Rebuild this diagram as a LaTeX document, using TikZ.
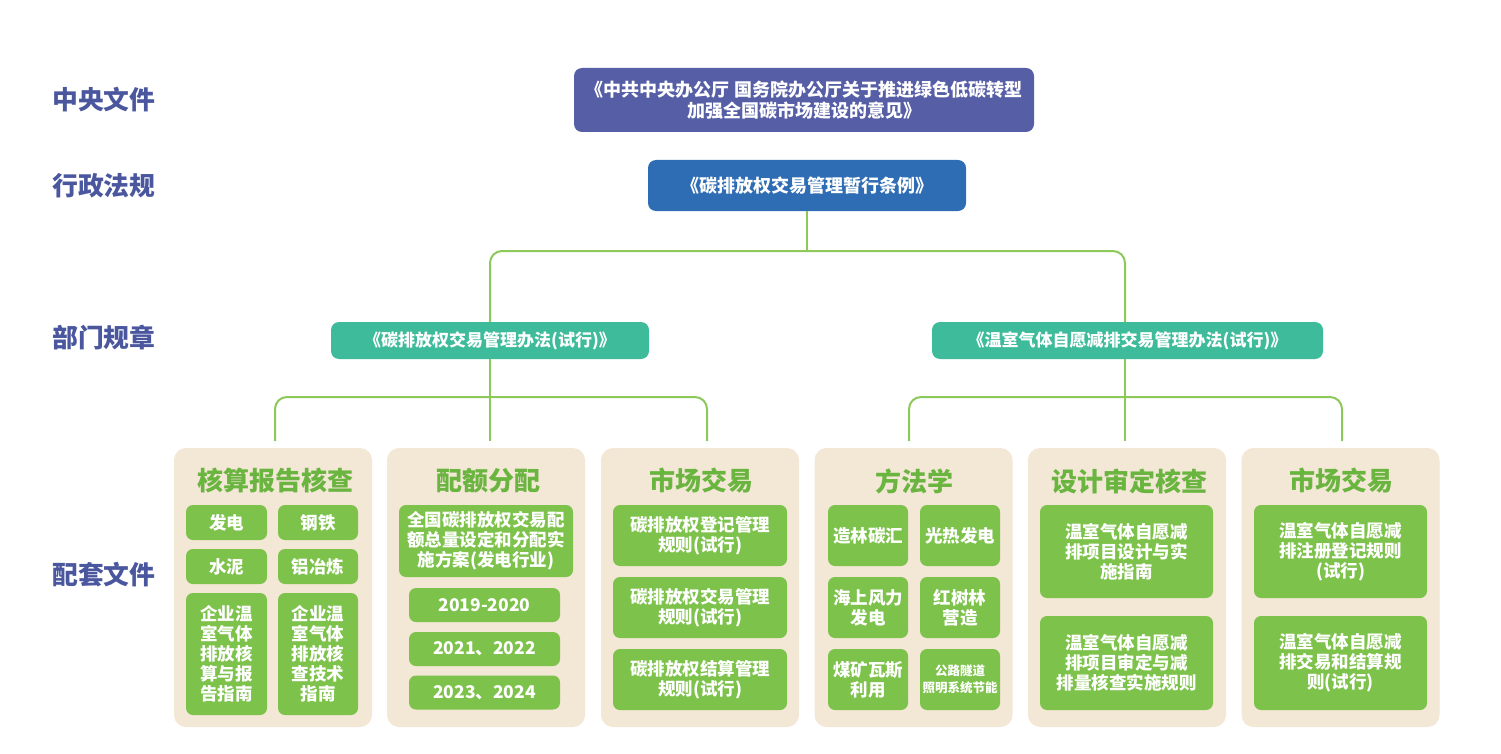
\documentclass[tikz,border=0pt]{standalone}
\usepackage{fontspec}
\setmainfont{Noto Sans CJK SC}
\definecolor{cpurple}{HTML}{565EA6}
\definecolor{cblue}{HTML}{2E6DB4}
\definecolor{cteal}{HTML}{3DBB9A}
\definecolor{cline}{HTML}{8DC85A}
\definecolor{cbeige}{HTML}{F3E7D5}
\definecolor{cgreen}{HTML}{7DC24B}
\definecolor{ctitle}{HTML}{6AB440}
\definecolor{clabel}{HTML}{4A579E}
\tikzset{
  lvl/.style={text=clabel,font=\fontsize{25.8}{28}\selectfont\bfseries,anchor=west,inner sep=0pt},
  topbox/.style={rounded corners=8pt,text=white,align=center,inner sep=0pt,font=\fontsize{18}{21}\selectfont\bfseries},
  panel/.style={fill=cbeige,rounded corners=12pt,minimum width=198pt,minimum height=279pt,inner sep=0pt},
  ptitle/.style={text=ctitle,font=\fontsize{26}{28}\selectfont\bfseries,inner sep=0pt},
  gbox/.style={fill=cgreen,rounded corners=7pt,text=white,align=center,inner sep=0pt,font=\fontsize{17.5}{20}\selectfont\bfseries},
  conn/.style={draw=cline,line width=2pt,rounded corners=12pt}
}
\begin{document}
\begin{tikzpicture}[x=1pt,y=-1pt]
\useasboundingbox (0,0) rectangle (1501,754);
% level labels
\node[lvl] (l1) at (52,100) {中央文件};
\node[lvl] (l2) at (52,186) {行政法规};
\node[lvl] (l3) at (52,338) {部门规章};
\node[lvl] (l4) at (52,575) {配套文件};
% top boxes
\node[topbox,fill=cpurple,minimum width=460pt,minimum height=64pt] (central) at (804,100)
  {《中共中央办公厅 国务院办公厅关于推进绿色低碳转型\\加强全国碳市场建设的意见》};
\node[topbox,fill=cblue,minimum width=318pt,minimum height=51pt] (tiaoli) at (807,185.5)
  {《碳排放权交易管理暂行条例》};
\node[topbox,fill=cteal,minimum width=318pt,minimum height=37pt,font=\fontsize{17}{20}\selectfont\bfseries] (bl) at (490,340.5)
  {《碳排放权交易管理办法(试行)》};
\node[topbox,fill=cteal,minimum width=391pt,minimum height=37pt,font=\fontsize{17}{20}\selectfont\bfseries] (br) at (1127.5,340.5)
  {《温室气体自愿减排交易管理办法(试行)》};
% connectors
\coordinate (j1) at (807,251);
\draw[conn] (tiaoli.south) -- (j1);
\draw[conn] (bl.north) |- (j1) -| (1125,322);
\coordinate (j2) at (490,397);
\coordinate (a1) at (275,441);
\coordinate (a2) at (490,441);
\coordinate (a3) at (707,441);
\draw[conn] (bl.south) -- (a2);
\draw[conn] (a1) |- (j2) -| (a3);
\coordinate (j3) at (1125,397);
\coordinate (b1) at (909,441);
\coordinate (b2) at (1125,441);
\coordinate (b3) at (1342,441);
\draw[conn] (1125,359) -- (b2);
\draw[conn] (b1) |- (j3) -| (b3);
% panels
\node[panel] (p1) at (273,587.5) {};
\node[panel] (p2) at (486,587.5) {};
\node[panel] (p3) at (700,587.5) {};
\node[panel] (p4) at (913.5,587.5) {};
\node[panel] (p5) at (1127,587.5) {};
\node[panel] (p6) at (1340.5,587.5) {};
\node[ptitle] (t1) at (275,481) {核算报告核查};
\node[ptitle] (t2) at (488,481) {配额分配};
\node[ptitle] (t3) at (701,481) {市场交易};
\node[ptitle] (t4) at (914,481) {方法学};
\node[ptitle] (t5) at (1129,481) {设计审定核查};
\node[ptitle] (t6) at (1341,481) {市场交易};
% panel 1
\node[gbox,minimum width=81pt,minimum height=35pt] (a11) at (226.5,522.5) {发电};
\node[gbox,minimum width=80pt,minimum height=35pt] (a12) at (318,522.5) {钢铁};
\node[gbox,minimum width=81pt,minimum height=35pt] (a21) at (226.5,566.5) {水泥};
\node[gbox,minimum width=80pt,minimum height=35pt] (a22) at (318,566.5) {铝冶炼};
\node[gbox,minimum width=81pt,minimum height=122pt] (a31) at (226.5,654) {企业温\\室气体\\排放核\\算与报\\告指南};
\node[gbox,minimum width=80pt,minimum height=122pt] (a32) at (318,654) {企业温\\室气体\\排放核\\查技术\\指南};
% panel 2
\node[gbox,minimum width=174pt,minimum height=72pt] (c1) at (486,541) {全国碳排放权交易配\\额总量设定和分配实\\施方案(发电行业)};
\node[gbox,minimum width=151pt,minimum height=34pt] (c2) at (484.5,605) {2019-2020};
\node[gbox,minimum width=151pt,minimum height=34pt] (c3) at (484.5,649) {2021、2022};
\node[gbox,minimum width=151pt,minimum height=34pt] (c4) at (484.5,692.5) {2023、2024};
% panel 3
\node[gbox,minimum width=174pt,minimum height=61pt] (d1) at (700,535.5) {碳排放权登记管理\\规则(试行)};
\node[gbox,minimum width=174pt,minimum height=61pt] (d2) at (700,607.5) {碳排放权交易管理\\规则(试行)};
\node[gbox,minimum width=174pt,minimum height=61pt] (d3) at (700,679.5) {碳排放权结算管理\\规则(试行)};
% panel 4
\node[gbox,minimum width=80pt,minimum height=61pt] (e11) at (868,535.5) {造林碳汇};
\node[gbox,minimum width=80pt,minimum height=61pt] (e12) at (960,535.5) {光热发电};
\node[gbox,minimum width=80pt,minimum height=61pt] (e21) at (868,607.5) {海上风力\\发电};
\node[gbox,minimum width=80pt,minimum height=61pt] (e22) at (960,607.5) {红树林\\营造};
\node[gbox,minimum width=80pt,minimum height=61pt] (e31) at (868,679.5) {煤矿瓦斯\\利用};
\node[gbox,minimum width=80pt,minimum height=61pt,font=\fontsize{12.5}{17}\selectfont\bfseries] (e32) at (960,679.5) {公路隧道\\照明系统节能};
% panel 5
\node[gbox,minimum width=173pt,minimum height=93pt] (f1) at (1126.5,551.5) {温室气体自愿减\\排项目设计与实\\施指南};
\node[gbox,minimum width=173pt,minimum height=94pt] (f2) at (1126.5,663) {温室气体自愿减\\排项目审定与减\\排量核查实施规则};
% panel 6
\node[gbox,minimum width=173pt,minimum height=93pt] (g1) at (1340.5,551.5) {温室气体自愿减\\排注册登记规则\\(试行)};
\node[gbox,minimum width=173pt,minimum height=94pt] (g2) at (1340.5,663) {温室气体自愿减\\排交易和结算规\\则(试行)};
\end{tikzpicture}
\end{document}
